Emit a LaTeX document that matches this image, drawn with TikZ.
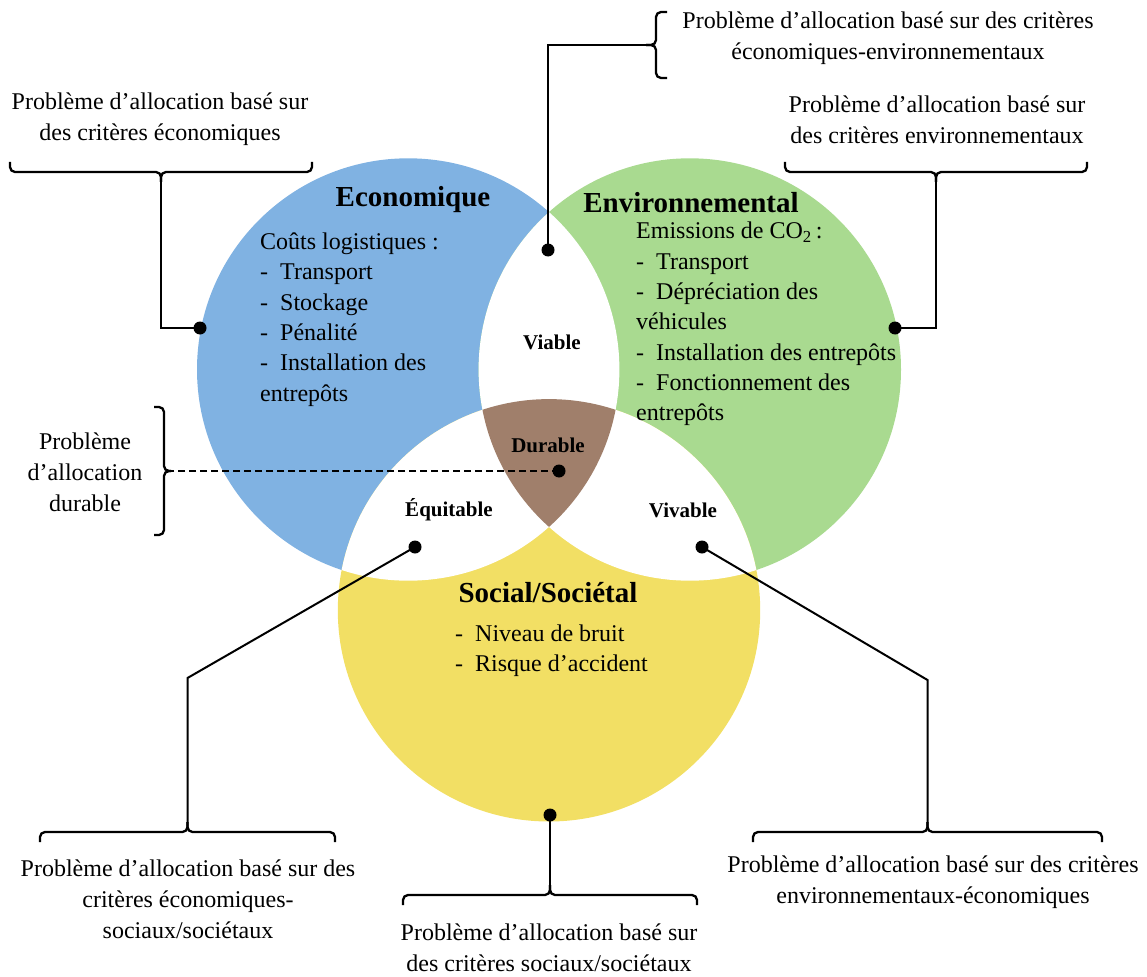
\documentclass[tikz,border=0pt]{standalone}
\usepackage{fontspec}
\setmainfont{Liberation Serif}
\definecolor{ecoblue}{RGB}{128,178,226}
\definecolor{envgreen}{RGB}{169,218,144}
\definecolor{socyellow}{RGB}{242,223,100}
\definecolor{durbrown}{RGB}{160,127,107}
\tikzset{
  body/.style={font=\fontsize{24}{31}\selectfont, inner sep=0pt, align=center},
  listtxt/.style={font=\fontsize{24}{30.3}\selectfont, inner sep=0pt, align=left, anchor=west},
  title/.style={font=\bfseries\fontsize{29}{34}\selectfont, inner sep=0pt},
  region/.style={font=\bfseries\fontsize{21}{25}\selectfont, inner sep=0pt},
  dot/.style={circle, fill=black, minimum size=13pt, inner sep=0pt},
  conn/.style={line width=2pt},
  bracepath/.style={line width=2.3pt, rounded corners=5pt},
}
\newcommand{\itm}[1]{\makebox[20pt][l]{-}#1}
\begin{document}
\begin{tikzpicture}[x=1pt,y=-1pt]
\useasboundingbox (0,0) rectangle (1147,976);
% circles
\coordinate (cB) at (408.2,369.5);
\coordinate (cG) at (689.8,369.5);
\coordinate (cY) at (549,610.3);
\def\R{211.2pt}
\fill[ecoblue] (cB) circle[radius=\R];
\fill[envgreen] (cG) circle[radius=\R];
\fill[socyellow] (cY) circle[radius=\R];
\begin{scope}
  \clip (cB) circle[radius=\R];
  \fill[white] (cG) circle[radius=\R];
  \fill[white] (cY) circle[radius=\R];
\end{scope}
\begin{scope}
  \clip (cG) circle[radius=\R];
  \fill[white] (cY) circle[radius=\R];
\end{scope}
\begin{scope}
  \clip (cB) circle[radius=\R];
  \clip (cG) circle[radius=\R];
  \fill[durbrown] (cY) circle[radius=\R];
\end{scope}

% titles
\node[title] (tEco) at (413,200) {Economique};
\node[title] (tEnv) at (691,203) {Environnemental};
\node[title] (tSoc) at (548,593) {Social/Sociétal};

% lists
\node[listtxt] (lEco) at (260,319.5) {Coûts logistiques :\\ \itm{Transport}\\ \itm{Stockage}\\ \itm{Pénalité}\\ \itm{Installation des}\\ entrepôts};
\node[listtxt] (lEnv) at (636,324) {Emissions de CO\textsubscript{2}\,:\\ \itm{Transport}\\ \itm{Dépréciation des}\\ véhicules\\ \itm{Installation des entrepôts}\\ \itm{Fonctionnement des}\\ entrepôts};
\node[listtxt] (lSoc) at (455,651) {\itm{Niveau de bruit}\\ \itm{Risque d’accident}};

% region labels
\node[region] (rVia) at (552,342) {Viable};
\node[region] (rDur) at (548,445) {Durable};
\node[region] (rEqu) at (449,510) {Équitable};
\node[region] (rViv) at (683,510) {Vivable};

% annotation texts
\node[body] (aTR) at (888,38) {Problème d’allocation basé sur des critères\\ économiques-environnementaux};
\node[body] (aTL) at (160,119) {Problème d’allocation basé sur\\ des critères économiques};
\node[body] (aTR2) at (937,120) {Problème d’allocation basé sur\\ des critères environnementaux};
\node[body] (aL) at (85,472) {Problème\\ d’allocation\\ durable};
\node[body] (aBL) at (188,899) {Problème d’allocation basé sur des\\ critères économiques-\\ sociaux/sociétaux};
\node[body] (aBC) at (549,948) {Problème d’allocation basé sur\\ des critères sociaux/sociétaux};
\node[body] (aBR) at (933,882) {Problème d’allocation basé sur des critères\\ environnementaux-économiques};

% braces (two halves each, meeting at the tip)
\coordinate (tipTR) at (646,45);
\draw[bracepath] (667,12) -- (656,12) -- (656,45) -- (tipTR);
\draw[bracepath] (667,78) -- (656,78) -- (656,45) -- (tipTR);
\coordinate (tipTL) at (161,182);
\draw[bracepath] (10,162) -- (10,172) -- (161,172) -- (tipTL);
\draw[bracepath] (312,162) -- (312,172) -- (161,172) -- (tipTL);
\coordinate (tipTR2) at (936,182);
\draw[bracepath] (785,162) -- (785,172) -- (936,172) -- (tipTR2);
\draw[bracepath] (1087,162) -- (1087,172) -- (936,172) -- (tipTR2);
\coordinate (tipL) at (171,471);
\draw[bracepath] (154,407) -- (164,407) -- (164,471) -- (tipL);
\draw[bracepath] (154,535) -- (164,535) -- (164,471) -- (tipL);
\coordinate (tipBL) at (187.5,822);
\draw[bracepath] (40,842) -- (40,832) -- (187.5,832) -- (tipBL);
\draw[bracepath] (335,842) -- (335,832) -- (187.5,832) -- (tipBL);
\coordinate (tipBC) at (550,885);
\draw[bracepath] (403,905) -- (403,895) -- (550,895) -- (tipBC);
\draw[bracepath] (697,905) -- (697,895) -- (550,895) -- (tipBC);
\coordinate (tipBR) at (927.5,822);
\draw[bracepath] (753,842) -- (753,832) -- (927.5,832) -- (tipBR);
\draw[bracepath] (1102,842) -- (1102,832) -- (927.5,832) -- (tipBR);

% dots
\node[dot] (dVia) at (548,250) {};
\node[dot] (dEco) at (200,328) {};
\node[dot] (dEnv) at (895,328) {};
\node[dot] (dDur) at (559,471) {};
\node[dot] (dEqu) at (415,547) {};
\node[dot] (dSoc) at (550,815) {};
\node[dot] (dViv) at (702,547) {};
\coordinate (bEqu) at (187.5,678);
\coordinate (bViv) at (927.5,680);

% connectors
\draw[conn] (dVia.center) |- (tipTR);
\draw[conn] (dEco.center) -| (tipTL);
\draw[conn] (dEnv.center) -| (tipTR2);
\draw[conn, dash pattern=on 7pt off 4pt] (dDur.center) -- (tipL);
\draw[conn] (dEqu.center) -- (bEqu) -- (tipBL);
\draw[conn] (dSoc.center) -- (tipBC);
\draw[conn] (dViv.center) -- (bViv) -- (tipBR);
\end{tikzpicture}
\end{document}
